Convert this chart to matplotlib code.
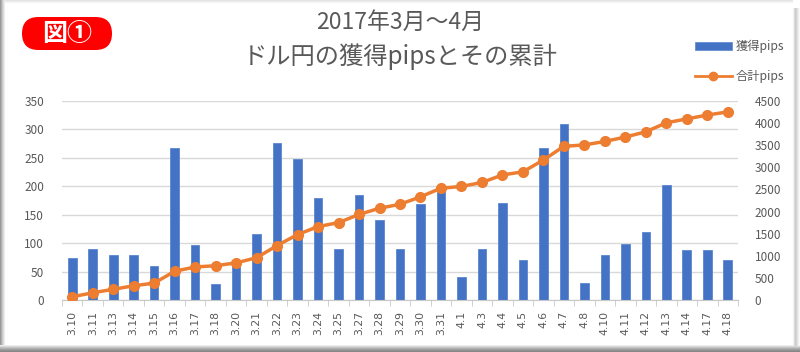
import matplotlib
matplotlib.use("Agg")
import matplotlib.pyplot as plt
from matplotlib.patches import Rectangle, FancyBboxPatch, Patch
from matplotlib.lines import Line2D
from matplotlib.transforms import IdentityTransform
import numpy as np

plt.rcParams['font.family'] = ['Noto Sans CJK JP', 'DejaVu Sans']

categories = ["3.10", "3.11", "3.13", "3.14", "3.15", "3.16", "3.17", "3.18", "3.20", "3.21",
              "3.22", "3.23", "3.24", "3.25", "3.27", "3.28", "3.29", "3.30", "3.31", "4.1",
              "4.3", "4.4", "4.5", "4.6", "4.7", "4.8", "4.10", "4.11", "4.12", "4.13",
              "4.14", "4.17", "4.18"]
pips = [73, 90, 79, 80, 60, 268, 97, 28, 65, 116,
        276, 248, 180, 90, 185, 140, 90, 168, 195, 40,
        90, 170, 70, 268, 310, 30, 80, 99, 119, 203,
        88, 88, 70]
total = [73, 163, 242, 322, 382, 650, 747, 775, 840, 956,
         1232, 1480, 1660, 1750, 1935, 2075, 2165, 2333, 2528, 2568,
         2658, 2828, 2898, 3166, 3476, 3506, 3586, 3685, 3804, 4007,
         4095, 4183, 4253]
left_ticks = [0, 50, 100, 150, 200, 250, 300, 350]
right_ticks = [0, 500, 1000, 1500, 2000, 2500, 3000, 3500, 4000, 4500]

title1 = "2017年3月～4月"
title2 = "ドル円の獲得pipsとその累計"
label_bar = "獲得pips"
label_line = "合計pips"
badge = "図①"

BLUE = "#4472C4"
ORANGE = "#ED7D31"
TXT = "#595959"
W, H = 800, 352

fig = plt.figure(figsize=(8, 3.52), dpi=100)
fig.patch.set_facecolor("white")

# frame shadows
def frect(x0, y0, x1, y1, color):
    fig.patches.append(Rectangle((x0 / W, 1 - y1 / H), (x1 - x0) / W, (y1 - y0) / H,
                                 transform=fig.transFigure, facecolor=color,
                                 edgecolor="none", zorder=-10))

for i, c in enumerate(["#9a9a9a", "#b0b0b0", "#c8c8c8", "#dcdcdc", "#ececec"]):
    frect(i, 0, i + 1, H, c)
for i, c in enumerate(["#ececec", "#d8d8d8", "#c4c4c4", "#b0b0b0", "#a0a0a0", "#909090", "#888888"]):
    frect(0, 345 + i, W, 346 + i, c)
for i, c in enumerate(["#f0f0f0", "#dcdcdc", "#cccccc", "#d4d4d4", "#e2e2e2", "#eeeeee", "#f8f8f8"]):
    frect(793 + i, 8, 794 + i, 346, c)
for i, c in enumerate(["#e4e4e4", "#ededed", "#f5f5f5"]):
    frect(5, i, 793, i + 1, c)

ax = fig.add_axes([62 / W, 1 - 300 / H, (738 - 62) / W, (300 - 101) / H])
ax.set_facecolor("none")
x = np.arange(len(categories))
ax.bar(x, pips, width=0.42, color=BLUE, edgecolor="#5b86d0", linewidth=0.6, zorder=2)
ax.set_xlim(-0.5, len(categories) - 0.5)
ax.set_ylim(0, 350)
ax.set_yticks(left_ticks)
ax.grid(axis="y", color="#d9d9d9", linewidth=1.0, zorder=0)
ax.set_axisbelow(True)
for s in ["top", "right", "left"]:
    ax.spines[s].set_visible(False)
ax.spines["bottom"].set_color("#c8c8c8")
ax.set_xticks(x)
ax.set_xticklabels(categories, rotation=90, fontsize=7.8, color=TXT, family="DejaVu Sans")
ax.set_xticks(np.arange(-0.5, len(categories), 1), minor=True)
ax.tick_params(axis="x", which="major", length=0, pad=8)
ax.tick_params(axis="x", which="minor", length=4, color="#c8c8c8")
ax.tick_params(axis="y", length=0, labelsize=8.5, labelcolor=TXT, pad=13)

ax2 = ax.twinx()
ax2.plot(x, total, color=ORANGE, linewidth=2.5, marker="o", markersize=7, zorder=3)
ax2.set_ylim(0, 4500)
ax2.set_yticks(right_ticks)
for s in ax2.spines.values():
    s.set_visible(False)
ax2.tick_params(axis="y", length=0, labelsize=8.5, labelcolor=TXT, pad=12)

# titles
fig.text(400 / W, 1 - 22 / H, title1, ha="center", va="center", fontsize=16.5, color=TXT)
fig.text(400 / W, 1 - 57 / H, title2, ha="center", va="center", fontsize=17.5, color=TXT)

# badge (pixel coordinates, origin bottom-left)
fig.patches.append(FancyBboxPatch((22, H - 50), 90, 33,
                                  boxstyle="round,pad=0,rounding_size=16.5",
                                  transform=IdentityTransform(), facecolor="#ff0000",
                                  edgecolor="none"))
fig.text(67 / W, 1 - 34 / H, badge, ha="center", va="center", fontsize=18,
         fontweight="bold", color="white")

# legend
handles = [Patch(facecolor=BLUE, edgecolor="#5b86d0", linewidth=0.5),
           Line2D([0], [0], color=ORANGE, linewidth=2, marker="o", markersize=6)]
fig.legend(handles, [label_bar, label_line], loc="upper left",
           bbox_to_anchor=(695 / W, 1 - 40 / H), frameon=False, fontsize=8.8,
           labelcolor=TXT, handlelength=3.0, handleheight=0.6, labelspacing=1.4,
           handletextpad=0.3, borderpad=0, borderaxespad=0)

fig.savefig("out.png", dpi=100, facecolor=fig.get_facecolor())
